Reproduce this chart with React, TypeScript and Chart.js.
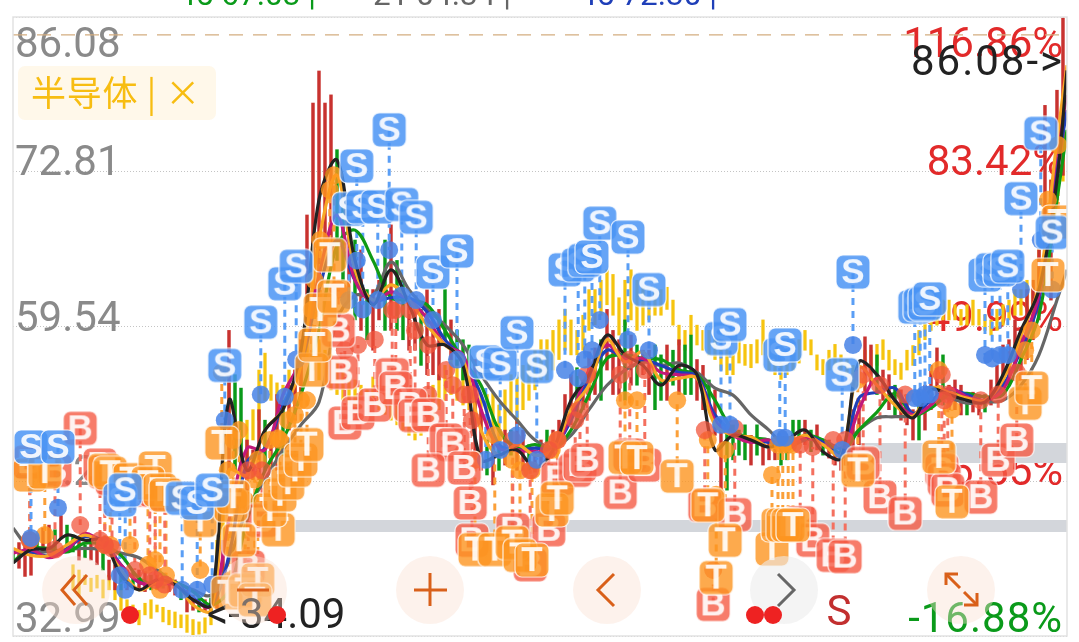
import React, { useEffect, useRef } from "react";
import { Chart, registerables } from "chart.js";

Chart.register(...registerables);

// ---------- axis labels ----------
const priceTicks = [86.08, 72.81, 59.54, 46.27, 32.99];
const priceLabels = ["86.08", "72.81", "59.54", "46.27", "32.99"];
const percentLabels = ["116.86%", "83.42%", "49.99%", "16.55%", "-16.88%"];
const highestPrice = 84.54;
const maxMarker = "86.08->";
const minMarker = "<-34.09";
const sectorTag = "半导体 | ×";
const headerTexts = ["45 67.03 |", "21 04.34 |", "45 72.30 |"];
const sellFlag = "S";

// ---------- moving averages (sampled every third session) ----------
const maDays = [0,3,6,9,12,15,18,21,24,27,30,33,36,39,42,45,48,51,54,57,60,63,66,69,72,75,78,81,84,87,90,93,96,99,102,105,108,111,114,117,120,123,126,129,132,135,138,141,144,147,150,153,156,159,162,165,168,171,174,175.67];
const maBlack = [39.25,40.4,40.5,41.65,41.2,41.2,38.2,36.95,37.8,37.4,36.1,35.65,53.2,47.2,50.65,52.4,57.5,70.4,73.8,65.2,61.4,64.4,61.4,57.95,57.95,56.2,48.1,48.5,48.95,47.4,48.95,53.2,55.4,58.8,57.1,56.2,54.5,56.2,55.4,48.95,50.2,49.8,49.2,49.8,50.65,48.8,48.25,56.5,55.4,53.2,51.7,54.1,53.7,53.2,53.05,55.4,59.2,62.7,72.1,81.5];
const maOrange = [40.5,39.9,39.9,40.8,41.65,40.8,38.65,36.95,37.6,37.6,35.65,35.2,47.2,46.8,50.65,52.4,56.2,66.95,72.5,64.4,61.8,63.1,61.8,59.65,57.95,56.7,50.65,48.5,49.4,48.5,48.95,52.4,54.5,58.4,56.5,57.35,54.95,55.1,55.1,51.1,50.2,50.05,49.2,49.4,50.2,49.4,48.5,56.0,54.5,52.8,51.85,54.25,53.9,53.4,53.2,54.95,58.8,63.1,75.5,81.95];
const maMagenta = [40.1,40.4,39.7,40.4,41.8,40.8,39.1,37.6,37.4,37.4,36.1,35.55,42.9,49.1,48.95,53.7,56.7,63.95,69.1,63.5,61.6,62.5,61.8,60.25,57.95,57.1,52.4,49.1,48.95,48.8,48.95,51.95,55.8,57.95,56.7,56.8,55.6,55.4,55.1,51.5,50.2,49.6,49.8,49.1,50.05,49.4,48.5,52.4,55.1,53.2,51.95,52.8,54.25,53.5,53.2,54.1,57.95,62.25,74.7,79.4];
const maBlue = [40.2,40.2,39.85,40.5,41.5,41.1,39.1,37.6,37.45,37.45,36.25,35.55,39.9,47.9,49.1,52.8,56.2,62.7,66.95,63.5,61.8,62.0,62.0,60.8,58.4,56.8,53.7,49.4,48.95,49.1,49.1,51.5,55.1,57.5,56.8,56.7,56.2,55.6,55.3,51.95,50.5,49.8,49.6,49.1,50.15,49.6,48.5,53.4,53.9,54.25,52.1,53.2,54.1,53.7,53.2,54.5,57.5,61.8,72.96,78.1];
const maGreen = [39.35,40.5,40.5,40.2,40.95,40.8,39.9,37.95,37.4,37.6,36.8,35.65,36.95,42.9,47.2,49.8,53.7,59.2,66.5,67.8,65.2,62.0,61.8,61.4,59.2,56.7,54.5,50.65,49.1,49.4,48.95,50.65,53.7,56.8,57.1,56.8,56.7,55.8,55.4,53.2,50.65,50.0,49.8,48.95,50.2,49.8,48.7,50.65,52.2,53.8,51.95,52.55,53.7,53.8,53.5,53.7,56.7,60.5,70.4,76.4];
const maGray = [42.25,40.4,40.2,40.4,40.5,40.4,40.1,39.7,38.65,37.6,36.95,36.5,39.5,43.8,46.4,48.95,51.1,53.05,60.1,62.2,62.2,65.05,62.7,61.0,59.65,57.95,55.4,53.2,51.5,49.8,49.2,50.2,52.4,54.5,55.8,56.5,56.2,56.4,55.6,54.25,53.65,51.95,50.65,49.2,49.8,49.8,49.1,50.65,51.7,51.8,51.95,53.2,53.4,52.95,53.05,53.2,54.5,57.1,61.8,64.4];

// ---------- daily candles (session 0..175) ----------
const candleHigh = [40.5,41.0,40.8,41.0,41.65,42.25,42.5,42.1,43.3,42.5,41.65,41.2,40.8,41.65,41.2,40.5,39.5,39.1,38.65,38.65,38.5,38.65,38.5,38.2,38.2,38.2,38.0,37.8,37.4,36.95,36.5,36.25,36.1,36.25,36.95,41.2,59.2,55.4,54.25,49.8,48.95,52.4,51.5,49.8,53.7,53.2,54.5,55.8,58.4,69.1,78.7,81.45,78.7,79.4,74.7,71.25,67.8,66.95,66.1,62.7,62.7,63.5,66.95,68.25,65.2,63.5,61.8,61.4,61.0,62.7,60.1,61.0,62.7,60.1,59.2,58.4,57.95,56.7,52.4,49.8,49.8,49.4,50.65,50.65,51.5,50.65,49.4,48.95,49.8,50.65,50.65,51.5,53.7,55.4,56.0,54.95,57.35,57.7,58.4,61.0,59.2,58.4,60.1,58.8,57.95,57.5,57.5,57.95,57.1,57.95,57.5,58.4,57.95,58.8,56.7,56.2,54.95,54.1,51.5,51.1,51.1,50.65,51.1,50.2,51.1,49.8,49.8,49.6,49.4,49.8,51.5,51.5,51.5,50.65,51.1,49.8,49.8,49.4,48.95,49.8,52.4,53.2,58.65,57.95,57.1,55.8,55.4,54.5,54.1,53.7,52.4,53.2,54.5,56.2,57.7,57.1,54.5,54.95,54.5,53.7,53.9,53.7,53.7,54.95,56.2,57.95,58.4,60.1,59.2,62.7,63.5,66.1,78.5,72.1,79.8,86.0];
const candleLow = [39.25,38.8,38.1,38.2,39.9,40.2,40.5,40.5,41.4,40.8,40.2,39.5,39.7,39.5,39.1,38.65,37.8,36.95,36.95,36.95,37.4,37.1,36.8,36.95,36.95,37.1,36.8,36.5,36.1,35.05,35.2,35.05,35.05,35.2,35.2,36.1,47.2,47.2,47.65,45.5,46.4,46.4,47.2,47.2,47.2,48.5,50.65,51.5,53.2,59.2,61.8,63.5,66.1,65.2,65.2,63.5,61.8,60.1,59.2,58.4,57.5,60.1,59.2,59.2,59.2,58.4,57.5,57.5,56.2,55.4,55.4,54.95,58.4,56.7,56.2,54.95,53.2,48.1,47.2,46.8,45.95,47.2,47.65,48.5,47.2,47.2,47.2,47.05,47.65,48.1,48.5,49.4,50.65,51.1,51.5,52.4,53.2,53.7,53.2,55.8,53.7,53.7,53.2,54.5,54.5,55.4,53.7,52.4,53.2,53.2,54.5,53.7,53.7,53.7,53.2,52.4,52.4,50.2,45.1,45.5,48.1,48.5,48.1,47.65,48.5,47.65,48.1,48.1,47.65,48.1,49.4,49.8,49.4,48.8,48.95,48.5,48.25,47.65,47.2,47.65,47.2,49.4,53.2,54.5,53.7,53.2,52.4,51.95,51.5,51.1,49.8,49.8,50.65,52.4,53.2,52.8,52.4,52.4,51.95,51.95,52.2,51.95,52.2,52.8,54.1,54.1,54.5,55.4,54.95,56.7,58.4,60.1,63.5,61.8,70.4,72.5];
const candleDirection = "grrrgrrgrggrgrrgrrgrgrrgrgrrgrrgrgrrrggrrrgrrgrrrrrrrrggrgrgrrgrggrrgrrrgrgggrrgrgrgrrgrrgrrrrgrrrgrrrgrgrrggrgrggrrgrrggggrgrrrggggrgrgrrrgrrrrgrrgrrrgrrrgrrrgrrgrrrrrrrrrrrrr";

// ---------- sector index bars (session 10..175) ----------
const indexFirstDay = 10;
const indexHigh = [39.1,38.65,38.2,37.95,38.2,37.8,38.2,37.6,36.95,36.1,35.65,35.2,35.8,36.1,35.65,35.45,35.2,35.05,34.8,34.8,34.4,34.2,34.55,36.1,41.2,48.1,56.0,53.2,50.65,51.5,52.4,55.8,57.25,55.4,54.7,54.5,55.8,55.8,57.5,60.1,59.2,58.4,57.5,57.1,56.7,55.8,55.4,54.95,54.5,54.1,55.2,54.5,54.5,54.1,53.7,53.2,52.4,52.8,53.2,53.7,54.5,55.4,56.2,56.7,56.7,55.8,55.4,54.5,53.7,53.7,53.8,52.8,54.1,55.4,55.2,56.2,56.7,57.5,58.4,58.4,59.2,60.1,61.0,60.1,59.2,60.5,62.7,62.7,63.5,64.4,64.0,62.0,63.5,64.4,63.5,63.0,62.7,62.7,62.7,62.9,61.8,59.65,59.2,60.5,59.65,59.2,59.2,58.4,57.5,57.5,57.1,58.4,58.0,58.0,58.4,60.1,57.5,57.1,56.7,57.1,57.5,58.4,59.2,58.4,57.1,56.7,57.5,58.0,57.1,56.7,56.2,56.2,57.5,57.5,58.0,58.4,57.5,56.7,56.4,57.5,57.9,59.2,60.1,61.0,61.4,61.8,61.8,61.4,61.0,61.4,61.8,61.0,60.5,60.1,61.0,61.4,61.8,62.7,62.7,63.5,63.5,66.1,68.7,72.1,77.0,79.0];
const indexLow = [36.95,36.5,37.4,36.8,37.1,36.25,36.95,36.1,35.2,35.05,34.5,33.95,34.8,34.5,35.05,34.2,33.95,33.7,33.7,33.3,33.1,33.15,33.25,33.95,36.1,41.2,48.95,47.2,46.4,47.2,49.8,51.5,53.2,53.2,53.2,52.8,53.2,52.8,53.2,56.7,55.8,54.95,54.5,54.1,53.7,53.2,52.8,52.4,51.95,51.5,52.8,52.4,52.0,51.5,51.1,50.65,50.2,49.8,50.2,50.65,51.5,52.4,53.2,53.7,53.2,52.8,52.4,51.5,50.65,50.2,49.4,49.4,50.65,51.95,51.1,52.4,53.2,54.1,54.95,54.95,55.8,56.7,57.5,57.1,57.1,57.5,59.2,59.7,60.5,61.4,60.5,58.8,59.65,60.1,59.2,59.65,60.1,60.5,60.5,61.0,59.65,57.95,57.5,58.8,57.95,57.5,57.1,56.7,55.8,55.4,55.4,56.4,56.2,56.0,56.4,57.1,55.8,55.4,55.0,55.4,55.8,56.4,57.5,57.1,55.8,55.4,55.8,56.0,55.8,55.4,55.0,54.5,55.8,55.8,56.2,56.7,55.8,55.4,55.0,55.8,56.2,57.1,58.4,59.2,59.65,60.1,60.1,60.1,59.65,59.65,59.65,59.65,59.2,58.8,59.2,59.65,60.1,60.5,60.5,61.0,61.4,62.7,64.4,66.1,70.0,72.0];

// ---------- sell (S) signals ----------
const sDays = [3,7.5,17.8,18.7,28.2,30.7,33.2,35.3,41.3,45.3,47.2,56,57.3,58.3,60.8,62.7,64.8,67.2,70,74,78.8,81.2,84,87.3,92,94.2,95.3,96.5,97.8,102.5,106,118,119.5,127.8,128.7,138.2,140,150.3,151.2,152,152.8,162,163.2,164.5,165.8,168,171.3,173.2];
const sLabelPrice = [49.2,49.2,44.65,45.5,44.8,44.4,45.5,56.2,59.9,63.2,64.7,69.6,73.3,69.8,69.8,76.4,70.0,68.9,64.2,66.0,56.5,56.3,59.0,56.1,64.4,64.8,65.2,65.5,68.4,67.2,62.7,58.5,59.7,57.1,57.95,55.4,64.2,61.2,61.4,61.5,61.9,63.95,64.4,64.4,64.7,70.5,76.1,67.6];
const sSignalPrice = [41.4,44.0,38.2,36.95,36.95,36.95,37.4,51.5,53.7,53.5,56.7,61.8,65.2,61.0,61.8,66.1,62.2,61.8,60.1,56.7,48.1,48.95,50.2,48.1,55.8,55.1,56.7,57.5,60.1,58.4,57.5,51.1,51.1,50.0,50.0,48.95,57.95,53.4,53.4,53.7,53.7,57.1,56.8,57.1,57.1,62.7,66.95,62.7];

// ---------- buy (B) signals ----------
const bDays = [11.2,2.8,7,14.5,15.3,16.5,20.3,22.8,23.7,25.3,41.5,39.2,54.2,54.7,55.3,57.5,60.3,63.2,63.8,66.2,67,69.2,72.2,73.3,69.2,75.2,76.2,76.5,83.3,89.3,86.2,90.8,93.7,94.5,95.7,101.2,102.8,105.3,115.3,120.3,116.7,131.2,133.3,136.7,138.7,141.7,144.5,148.7,154.8,155.2,155.8,161.3,164.2,167.3];
const bLabelPrice = [50.8,47.9,47.2,47.65,47.05,46.5,45.5,45.9,45.5,45.1,42.9,38.9,59.2,55.6,51.25,52.1,52.8,55.4,54.25,52.8,51.9,51.95,49.8,49.4,47.2,47.4,44.4,41.2,42.1,42.1,39.1,46.5,47.2,47.65,48.1,45.3,48.5,47.65,44.2,43.4,35.7,42.7,41.2,39.9,39.8,47.8,44.9,43.5,47.2,46.4,45.5,44.9,48.1,49.8];
const bSignalPrice = [42.5,41.2,40.4,41.2,40.8,40.5,38.65,38.2,37.8,37.4,47.2,47.2,62.7,59.2,57.5,57.95,58.4,60.95,60.95,60.95,59.2,57.95,55.8,54.5,53.7,53.7,53.7,51.5,49.8,48.95,47.2,49.8,51.5,52.4,55.4,55.4,56.7,55.8,50.65,50.8,38.65,49.4,49.2,49.8,49.8,55.4,54.5,53.7,55.4,53.2,53.7,53.2,53.7,55.6];

// ---------- T signals ----------
const tDays = [2.8,5.3,15.3,16.2,19.5,23.7,22.5,24.5,25.5,31.2,36.3,34.8,36.7,37.7,35.8,38.7,40.8,40.3,44.2,42.8,44.5,45.8,47,48,49,49.8,50.3,51.2,52.8,53.5,77,80.3,83.2,84.5,86.5,89.8,90.7,102,104,110.7,115.8,118.7,117.2,126.5,127.5,128.3,129.2,130,140.8,154.3,156.5,168.7,169.8,172.5,174.2];
const tLabelPrice = [46.8,47.05,47.2,46.95,46.4,47.4,46.1,45.5,45.1,42.9,44.2,49.55,44.9,41.2,36.7,36.9,37.8,36.1,42.1,43.8,45.1,46.1,47.2,48.1,49.4,55.8,57.95,60.95,65.65,62.1,40.4,40.4,41.0,39.9,39.5,43.8,44.8,48.3,48.25,46.7,44.2,41.2,38.0,40.45,42.5,42.5,42.5,42.5,47.2,48.35,44.5,52.95,54.25,63.95,68.5];
const tSignalPrice = [41.2,41.65,40.8,40.8,40.8,39.5,39.1,36.95,38.2,38.65,37.8,55.6,49.8,50.65,47.2,44.65,48.1,46.4,49.95,49.8,49.8,51.5,51.95,53.2,53.2,60.95,63.5,66.95,71.25,72.5,48.1,50.2,48.1,47.2,47.2,48.95,49.8,53.2,53.2,53.2,49.8,48.95,45.1,46.8,49.4,49.4,49.4,49.4,54.95,55.8,52.4,57.5,59.2,70.4,75.1];

// ---------- shaded price zones ----------
const zoneUpper = { price: 48.69, fromDay: 141, toDay: 175.67 };
const zoneLower = { price: 42.43, fromDay: 47, toDay: 175.67 };

const FONT = 'Roboto, "Noto Sans", sans-serif';
const AREA = { left: 13, right: 1067, top: 17, bottom: 636 };

function makeBadge(letter: string, fill: string, alpha: number) {
  const size = 36;
  const c = document.createElement("canvas");
  c.width = size;
  c.height = size;
  const g = c.getContext("2d")!;
  g.globalAlpha = alpha;
  g.fillStyle = fill;
  g.beginPath();
  g.roundRect(1, 1, size - 2, size - 2, 7);
  g.fill();
  g.globalAlpha = 0.85;
  g.strokeStyle = "#ffffff";
  g.lineWidth = 1.2;
  g.stroke();
  g.globalAlpha = 0.9;
  g.fillStyle = "#ffffff";
  g.font = `bold 35px "Liberation Sans", Arial, sans-serif`;
  g.textAlign = "center";
  g.textBaseline = "middle";
  g.fillText(letter, size / 2, size / 2 + 1.5);
  return c;
}

function leaders(days: number[], from: number[], to: number[]) {
  const pts: { x: number; y: number | null }[] = [];
  days.forEach((d, i) => {
    pts.push({ x: d, y: from[i] }, { x: d, y: to[i] }, { x: d, y: null });
  });
  return pts;
}

function zip(days: number[], vals: number[]) {
  return days.map((d, i) => ({ x: d, y: vals[i] }));
}

const overlayPlugin = {
  id: "overlay",
  beforeDatasetsDraw(chart: any) {
    const { ctx } = chart;
    ctx.save();
    ctx.textBaseline = "alphabetic";
    ctx.font = `42px ${FONT}`;
    const bases = [57, 175, 331, 485, 632];
    ctx.fillStyle = "#8a8a8a";
    ctx.textAlign = "left";
    priceLabels.forEach((t, i) => ctx.fillText(t, 15, bases[i]));
    ctx.textAlign = "right";
    percentLabels.forEach((t, i) => {
      ctx.fillStyle = i === 4 ? "#0a9a1a" : "#e22a2a";
      (ctx as any).letterSpacing = i === 4 ? "1px" : "0px";
      ctx.fillText(t, 1063, bases[i]);
    });
    (ctx as any).letterSpacing = "0px";
    // sector tag
    ctx.fillStyle = "#fff8ea";
    ctx.beginPath();
    ctx.roundRect(18, 66, 198, 54, 7);
    ctx.fill();
    ctx.fillStyle = "#f7bd12";
    ctx.textAlign = "left";
    ctx.font = `35px "Noto Sans CJK SC", sans-serif`;
    (ctx as any).letterSpacing = "0.7px";
    ctx.fillText(sectorTag, 31, 106);
    (ctx as any).letterSpacing = "0px";
    ctx.restore();
  },
  afterDraw(chart: any) {
    const { ctx } = chart;
    ctx.save();
    // frame
    ctx.strokeStyle = "#e2e2e2";
    ctx.lineWidth = 1.5;
    ctx.strokeRect(AREA.left, AREA.top, AREA.right - AREA.left, AREA.bottom - AREA.top);

    // header row, cropped at the top of the picture
    ctx.font = `31.5px ${FONT}`;
    ctx.textBaseline = "alphabetic";
    ctx.textAlign = "left";
    const hx = [178, 373, 579];
    const hc = ["#0a9a1a", "#666666", "#1f3fb8"];
    headerTexts.forEach((t, i) => {
      ctx.fillStyle = hc[i];
      ctx.fillText(t, hx[i], 5);
    });

    // min / max markers
    ctx.fillStyle = "#222222";
    ctx.font = `42px ${FONT}`;
    ctx.textAlign = "right";
    (ctx as any).letterSpacing = "2px";
    ctx.fillText(maxMarker, 1064, 75);
    (ctx as any).letterSpacing = "0px";
    ctx.textAlign = "left";
    ctx.fillText(minMarker, 207, 628);

    // round buttons
    const bx = [76, 253, 430, 607, 784, 961];
    bx.forEach((x, i) => {
      ctx.fillStyle = i === 4 ? "rgba(236,236,236,0.6)" : "rgba(250,225,210,0.42)";
      ctx.beginPath();
      ctx.arc(x, 590, 34, 0, Math.PI * 2);
      ctx.fill();
    });
    ctx.lineWidth = 3;
    ctx.strokeStyle = "#d9601a";
    const poly = (pts: number[][]) => {
      ctx.beginPath();
      pts.forEach((p, i) => (i ? ctx.lineTo(p[0], p[1]) : ctx.moveTo(p[0], p[1])));
      ctx.stroke();
    };
    poly([[75, 575], [62, 590], [75, 605]]);
    poly([[87, 575], [74, 590], [87, 605]]);
    poly([[237, 590], [269, 590]]);
    poly([[414, 590], [447, 590]]);
    poly([[430, 573], [430, 606]]);
    poly([[614, 574], [598, 590], [614, 606]]);
    ctx.strokeStyle = "#666666";
    poly([[778, 574], [794, 590], [778, 606]]);
    ctx.strokeStyle = "#d9601a";
    poly([[946, 574], [960, 588]]);
    poly([[946, 585], [946, 574], [958, 574]]);
    poly([[964, 592], [977, 605]]);
    poly([[977, 593], [977, 605], [964, 605]]);

    // signal dots under the buttons
    ctx.fillStyle = "#ee2222";
    [130, 277, 755, 773].forEach((x) => {
      ctx.beginPath();
      ctx.arc(x, 615, 9, 0, Math.PI * 2);
      ctx.fill();
    });
    ctx.fillStyle = "#c22f2f";
    ctx.font = `42px ${FONT}`;
    ctx.textAlign = "center";
    ctx.fillText(sellFlag, 839, 625);
    ctx.restore();
  },
};

export default function App() {
  const ref = useRef<HTMLCanvasElement>(null);

  useEffect(() => {
    document.body.style.margin = "0";
    document.body.style.background = "#ffffff";
    const line = (label: string, values: number[], color: string, order: number) => ({
      type: "line" as const,
      label,
      data: zip(maDays, values),
      borderColor: color,
      borderWidth: 3.2,
      pointRadius: 0,
      tension: 0.35,
      order,
    });
    const zone = (z: { price: number; fromDay: number; toDay: number }, w: number) => ({
      type: "line" as const,
      label: "zone",
      data: [{ x: z.fromDay, y: z.price }, { x: z.toDay, y: z.price }],
      borderColor: "#d3d6db",
      borderWidth: w,
      pointRadius: 0,
      order: 100,
    });
    const leader = (days: number[], a: number[], b: number[], color: string, order: number) => ({
      type: "line" as const,
      label: "leader",
      data: leaders(days, a, b),
      borderColor: color,
      borderWidth: 3,
      borderDash: [7, 6],
      pointRadius: 0,
      spanGaps: false,
      order,
    });
    const dots = (days: number[], v: number[], color: string, order: number) => ({
      type: "scatter" as const,
      label: "signal",
      data: zip(days, v),
      backgroundColor: color,
      borderWidth: 0,
      pointRadius: 9,
      order,
    });
    const badges = (days: number[], v: number[], letter: string, fill: string, alpha: number, order: number) => ({
      type: "scatter" as const,
      label: letter,
      data: zip(days, v),
      pointStyle: makeBadge(letter, fill, alpha),
      pointRadius: 17,
      order,
    });

    const chart = new Chart(ref.current!, {
      type: "bar",
      data: {
        datasets: [
          zone(zoneUpper, 20),
          zone(zoneLower, 12),
          {
            type: "bar",
            label: "index",
            data: indexHigh.map((h, i) => ({ x: indexFirstDay + i, y: [indexLow[i], h] })),
            backgroundColor: "#f6c40f",
            barThickness: 2.6,
            grouped: false,
            order: 90,
          },
          {
            type: "bar",
            label: "candles",
            data: candleHigh.map((h, i) => ({ x: i, y: [candleLow[i], h] })),
            backgroundColor: candleHigh.map((_, i) => (candleDirection[i] === "g" ? "#0a9a1a" : "#c8322f")),
            barThickness: 2.8,
            grouped: false,
            order: 80,
          },
          {
            type: "line",
            label: "high",
            data: [{ x: 0, y: highestPrice }, { x: 175.67, y: highestPrice }],
            borderColor: "#d4ad80",
            borderWidth: 1.2,
            borderDash: [14, 10],
            pointRadius: 0,
            order: 85,
          },
          leader(tDays, tLabelPrice, tSignalPrice, "#fba03a", 72),
          leader(bDays, bLabelPrice, bSignalPrice, "#f4705f", 71),
          leader(sDays, sLabelPrice, sSignalPrice, "#5a9ef5", 70),
          line("MA60", maGray, "#666666", 66),
          line("MA30", maGreen, "#0f9a14", 65),
          line("MA20", maBlue, "#1f3fb8", 64),
          line("MA10", maMagenta, "#c2187a", 63),
          line("MA5", maOrange, "#f9a826", 62),
          line("MA3", maBlack, "#222222", 61),
          dots(tDays, tSignalPrice, "rgba(255,150,30,0.8)", 52),
          dots(bDays, bSignalPrice, "rgba(242,85,60,0.75)", 51),
          dots(sDays, sSignalPrice, "rgba(70,130,230,0.85)", 50),
          badges(bDays, bLabelPrice, "B", "#f55b45", 0.8, 13),
          badges(tDays, tLabelPrice, "T", "#fd9521", 0.8, 12),
          badges(sDays, sLabelPrice, "S", "#4a94f5", 0.85, 11),
        ] as any,
      },
      options: {
        responsive: false,
        animation: false,
        devicePixelRatio: 1,
        layout: {
          autoPadding: false,
          padding: { left: AREA.left, right: 1079 - AREA.right, top: AREA.top, bottom: 642 - AREA.bottom },
        },
        plugins: { legend: { display: false }, tooltip: { enabled: false } },
        scales: {
          x: { type: "linear", display: false, min: 0, max: 175.67, offset: false },
          y: {
            type: "linear",
            min: 32.99,
            max: 86.08,
            ticks: { display: false },
            afterBuildTicks: (s: any) => {
              s.ticks = priceTicks.map((v) => ({ value: v }));
            },
            afterFit: (s: any) => {
              s.width = 0;
            },
            border: { display: false, dash: [1, 2] },
            grid: { color: "#c4c4c4", lineWidth: 1, drawTicks: false },
          } as any,
        },
      },
      plugins: [overlayPlugin as any],
    });
    return () => chart.destroy();
  }, []);

  return (
    <div style={{ position: "fixed", left: 0, top: 0, width: 1079, height: 642, background: "#fff" }}>
      <canvas ref={ref} width={1079} height={642} style={{ display: "block" }} />
    </div>
  );
}
